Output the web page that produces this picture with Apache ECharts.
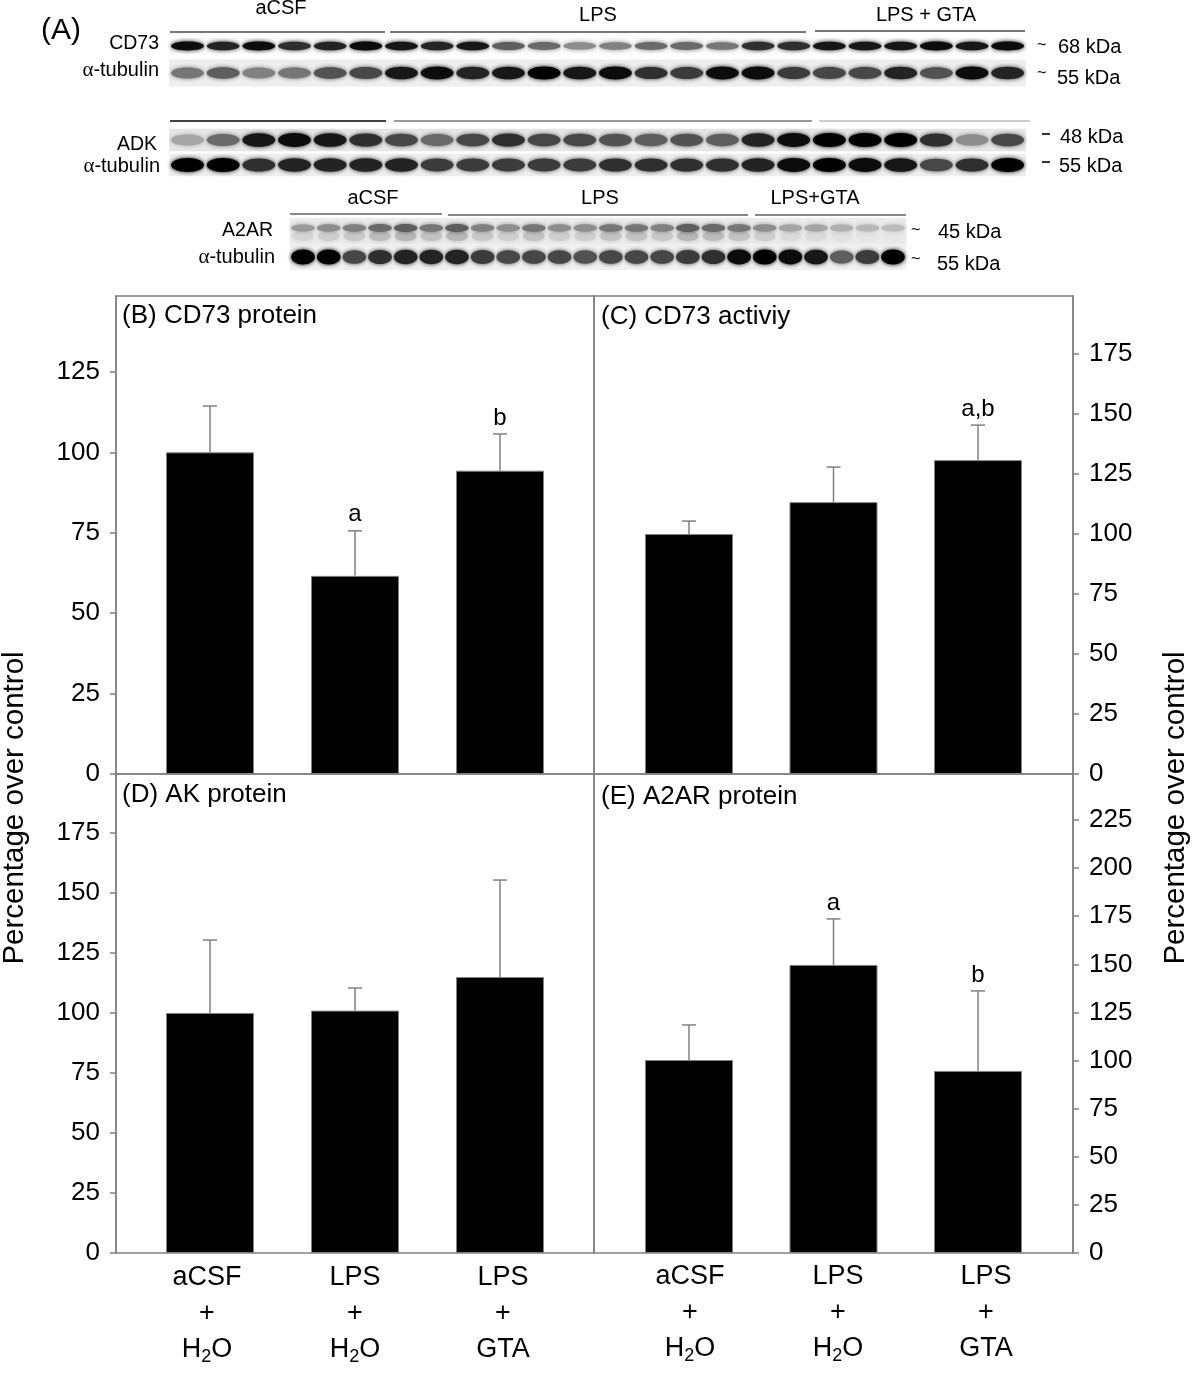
<!DOCTYPE html>
<html><head><meta charset="utf-8">
<style>html,body{margin:0;padding:0;background:#fff}#c{width:1200px;height:1373px}</style>
<script src="https://cdn.jsdelivr.net/npm/echarts@6/dist/echarts.min.js"></script>
</head><body><div id="c"></div>
<script>
// ---------- chart data ----------
const categories = ['aCSF + H2O', 'LPS + H2O', 'LPS + GTA'];
const xLabelsLower = ['aCSF\n+\nH{sub|2}O', 'LPS\n+\nH{sub|2}O', 'LPS\n+\nGTA'];

const cd73Protein = [100, 61.6, 94.3];
const cd73ProteinTop = [114.4, 75.6, 105.7];
const cd73ProteinMarks = ['', 'a', 'b'];
const cd73ProteinTicks = [0, 25, 50, 75, 100, 125];

const cd73Activity = [100, 113.3, 130.8];
const cd73ActivityTop = [105.4, 127.9, 145.4];
const cd73ActivityMarks = ['', '', 'a,b'];
const cd73ActivityTicks = [0, 25, 50, 75, 100, 125, 150, 175];

const akProtein = [100, 101, 115];
const akProteinTop = [130.4, 110.4, 155.4];
const akProteinMarks = ['', '', ''];
const akProteinTicks = [0, 25, 50, 75, 100, 125, 150, 175];

const a2arProtein = [100.3, 149.7, 94.6];
const a2arProteinTop = [118.5, 173.6, 136.2];
const a2arProteinMarks = ['', 'a', 'b'];
const a2arProteinTicks = [0, 25, 50, 75, 100, 125, 150, 175, 200, 225];

// blot band darkness per lane
const blotCd73 = [.95,.85,.95,.8,.85,.95, .9,.85,.9,.6,.55,.4,.45,.55,.55,.5,.8,.8, .9,.9,.9,.95,.9,.95];
const blotTub1 = [.5,.6,.45,.5,.65,.7, .9,.95,.85,.9,1,.9,.95,.8,.75,.95,.95,.75, .7,.7,.85,.65,.95,.85];
const blotAdk  = [.3,.55,.9,.95,.9,.8, .7,.55,.7,.8,.7,.7,.65,.6,.65,.6,.85,.95, 1,1,1,.8,.4,.7];
const blotTub2 = [1,1,.8,.85,.85,.85, .85,.75,.75,.75,.75,.75,.8,.8,.8,.8,.85,.95, 1,.95,.9,.7,.8,1];
const blotA2ar = [.35,.4,.45,.55,.6,.5, .6,.45,.4,.5,.4,.4,.5,.5,.45,.6,.55,.5, .4,.3,.3,.25,.22,.2];
const blotTub3 = [1,1,.7,.8,.85,.85, .85,.75,.7,.7,.7,.65,.7,.7,.7,.75,.8,.95, 1,.95,.9,.6,.75,1];
const laneNames = blotCd73.map((_, i) => 'L' + (i + 1));

// ---------- styles / layout ----------
const FONT = '"Liberation Sans", Arial, sans-serif';
const GRAY = '#808080';
const grid = [], xAxis = [], yAxis = [], series = [];

function addFrame(left, top, width, height) {
  const i = grid.length;
  grid.push({show: true, left, top, width, height, borderColor: GRAY, borderWidth: 1.5, backgroundColor: 'transparent'});
  xAxis.push({gridIndex: i, type: 'category', data: categories, show: false});
  yAxis.push({gridIndex: i, type: 'value', show: false});
}

function addPanel(p) {
  const i = grid.length;
  grid.push({left: p.left, top: p.top, width: p.width, height: p.height});
  xAxis.push({gridIndex: i, type: 'category', data: categories, axisLine: {show: false}, axisTick: {show: false}, axisLabel: {show: false}});
  yAxis.push({
    gridIndex: i, type: 'value', min: 0, max: p.max, interval: 25,
    position: p.side, offset: p.offset, splitLine: {show: false},
    axisLine: {show: true, onZero: false, lineStyle: {color: GRAY, width: 1.5}},
    axisTick: {show: true, length: 6, lineStyle: {color: GRAY, width: 1.5}, customValues: p.ticks},
    axisLabel: {show: true, fontFamily: FONT, fontSize: 26, color: '#000', margin: 16, customValues: p.ticks}
  });
  series.push({
    type: 'bar', xAxisIndex: i, yAxisIndex: i, data: p.values, barWidth: 88, silent: true,
    itemStyle: {color: '#000', borderColor: GRAY, borderWidth: 1}
  });
  series.push({
    type: 'custom', xAxisIndex: i, yAxisIndex: i, silent: true, z: 5,
    data: p.values.map((v, k) => [k, v, p.tops[k], p.marks[k]]),
    encode: {x: 0, y: [1, 2]},
    renderItem(params, api) {
      const x = api.value(0);
      const a = api.coord([x, api.value(1)]);
      const b = api.coord([x, api.value(2)]);
      const mark = p.marks[params.dataIndex];
      const lineStyle = {stroke: GRAY, lineWidth: 1.5};
      const children = [
        {type: 'line', shape: {x1: a[0], y1: a[1], x2: b[0], y2: b[1]}, style: lineStyle},
        {type: 'line', shape: {x1: b[0] - 7, y1: b[1], x2: b[0] + 7, y2: b[1]}, style: lineStyle}
      ];
      if (mark) children.push({type: 'text', style: {
        x: b[0], y: b[1] - 16, text: mark, fill: '#000',
        font: '24px ' + FONT, align: 'center', verticalAlign: 'middle'}});
      return {type: 'group', children};
    }
  });
}

function addLabels(left, top, width, bottomGap) {
  const i = grid.length;
  grid.push({left, top, width, height: 1});
  xAxis.push({
    gridIndex: i, type: 'category', data: xLabelsLower, position: 'bottom',
    axisLine: {show: false}, axisTick: {show: false},
    axisLabel: {interval: 0, margin: bottomGap, fontFamily: FONT, fontSize: 27, color: '#000', lineHeight: 36, align: 'center', verticalAlign: 'top',
      rich: {sub: {fontFamily: FONT, fontSize: 18, color: '#000', lineHeight: 36, padding: [14, 0, 0, 0]}}}
  });
  yAxis.push({gridIndex: i, type: 'value', show: false});
}

function addBlot(left, top, width, height, rows) {
  const i = grid.length;
  grid.push({left, top, width, height});
  xAxis.push({gridIndex: i, type: 'category', data: laneNames, show: false});
  yAxis.push({gridIndex: i, type: 'category', data: rows.map((_, k) => 'r' + k), inverse: true, show: false});
  rows.forEach((row, r) => {
    series.push({
      type: 'custom', xAxisIndex: i, yAxisIndex: i, silent: true,
      data: row.vals.map((v, k) => [k, r, v]),
      encode: {x: 0, y: 1},
      renderItem(params, api) {
        const c = api.coord([api.value(0), api.value(1)]);
        const s = api.size([1, 1]);
        const d = api.value(2);
        const g = Math.round(235 * (1 - d));
        const col = `rgb(${g},${g},${g})`;
        const kids = [{type: 'rect', shape: {x: c[0] - s[0] / 2 - 0.5, y: c[1] - s[1] * row.bg, width: s[0] + 1, height: s[1] * row.bg * 2},
            style: {fill: row.bgFill}}];
        if (row.dbl) {
          const l = Math.round(255 - d * 120);
          kids.push({type: 'ellipse', shape: {cx: c[0], cy: c[1] + 5, rx: s[0] * 0.42, ry: 5},
            style: {fill: `rgb(${l},${l},${l})`, shadowBlur: 4, shadowColor: `rgb(${l},${l},${l})`}});
        }
        kids.push({type: 'ellipse', shape: {cx: c[0], cy: c[1] + (row.dy || 0), rx: s[0] * 0.46, ry: row.ry * (0.7 + 0.3 * d)},
          style: {fill: col, shadowBlur: 4, shadowColor: col}});
        return {type: 'group', children: kids};
      }
    });
  });
}

// frames
addFrame(116, 296, 478, 478);
addFrame(594, 296, 479, 478);
addFrame(116, 774, 478, 479);
addFrame(594, 774, 479, 479);

// panels
addPanel({left: 137.5, top: 296, width: 435, height: 478, max: 148.6, side: 'left', offset: 21.5, ticks: cd73ProteinTicks, values: cd73Protein, tops: cd73ProteinTop, marks: cd73ProteinMarks});
addPanel({left: 616.75, top: 296, width: 433.5, height: 478, max: 199.2, side: 'right', offset: 22.75, ticks: cd73ActivityTicks, values: cd73Activity, tops: cd73ActivityTop, marks: cd73ActivityMarks});
addPanel({left: 137.5, top: 774, width: 435, height: 479, max: 199.6, side: 'left', offset: 21.5, ticks: akProteinTicks, values: akProtein, tops: akProteinTop, marks: akProteinMarks});
addPanel({left: 616.75, top: 774, width: 433.5, height: 479, max: 248.9, side: 'right', offset: 22.75, ticks: a2arProteinTicks, values: a2arProtein, tops: a2arProteinTop, marks: a2arProteinMarks});

// category labels under lower panels
addLabels(133, 1253, 444, 6);
addLabels(616, 1252, 444, 6);

// blots
addBlot(169.67, 32.5, 855.8, 54, [
  {vals: blotCd73, ry: 4.5, bg: 0.3, bgFill: '#fbfbfb'},
  {vals: blotTub1, ry: 6.5, bg: 0.5, bgFill: '#eeeeee'}
]);
addBlot(169.67, 127.5, 855.8, 50, [
  {vals: blotAdk, ry: 7, bg: 0.45, bgFill: '#e6e6e6'},
  {vals: blotTub2, ry: 7, bg: 0.45, bgFill: '#eeeeee'}
]);
addBlot(290.2, 218, 615.6, 52, [
  {vals: blotA2ar, ry: 4.5, bg: 0.5, bgFill: '#ebebeb', dbl: true, dy: -3},
  {vals: blotTub3, ry: 7.5, bg: 0.5, bgFill: '#f0f0f0'}
]);

// ---------- text and rules ----------
function txt(x, y, text, size, align, extra) {
  return Object.assign({type: 'text', x, y, silent: true, style: {text, fill: '#000', font: size + 'px ' + FONT, align: align || 'left', verticalAlign: 'middle'}}, extra || {});
}
function rule(x1, x2, y, color, w) {
  return {type: 'line', silent: true, shape: {x1, y1: y, x2, y2: y}, style: {stroke: color, lineWidth: w || 2}};
}
const alpha = {serif: {fontFamily: '"Liberation Serif", serif', fontSize: 21, fill: '#000'}};
function tub(x, y) {
  return {type: 'text', x, y, silent: true, style: {text: '{serif|α}-tubulin', rich: alpha, fill: '#000', font: '20px ' + FONT, align: 'right', verticalAlign: 'middle'}};
}
const graphicItems = [
  txt(41, 31, '(A)', 30),
  txt(159, 44, 'CD73', 19.5, 'right'), tub(159, 70),
  txt(157, 145, 'ADK', 19.5, 'right'), tub(160, 166),
  txt(273, 231, 'A2AR', 19.5, 'right'), tub(275, 257),

  txt(281, 8, 'aCSF', 20, 'center'), txt(598, 15, 'LPS', 20, 'center'), txt(926, 15, 'LPS + GTA', 20, 'center'),
  txt(373, 198, 'aCSF', 20, 'center'), txt(600, 198, 'LPS', 20, 'center'), txt(815, 198, 'LPS+GTA', 20, 'center'),

  rule(170, 385, 32, '#777'), rule(390, 806, 32, '#777'), rule(815, 1025, 31, '#777'),
  rule(170, 386, 121, '#444'), rule(394, 812, 121, '#999'), rule(819, 1030, 121, '#ccc'),
  rule(290, 442, 214, '#888'), rule(448, 748, 215, '#888'), rule(755, 906, 215, '#888'),

  txt(1058, 47, '68 kDa', 20), txt(1057, 78, '55 kDa', 20),
  txt(1060, 137, '48 kDa', 20), txt(1059, 166, '55 kDa', 20),
  txt(938, 232, '45 kDa', 20), txt(937, 264, '55 kDa', 20),
  txt(1037, 46, '~', 16), txt(1037, 74, '~', 16),
  rule(1042, 1050, 134, '#333'), rule(1042, 1050, 162, '#333'),
  txt(911, 231, '~', 16), txt(911, 260, '~', 16),

  txt(122, 316, '(B) CD73 protein', 26), txt(601, 317, '(C) CD73 activiy', 26),
  txt(122, 795, '(D) AK protein', 26), txt(601, 797, '(E) A2AR protein', 26),

  txt(15, 808, 'Percentage over control', 29.5, 'center', {rotation: Math.PI / 2}),
  txt(1176, 808, 'Percentage over control', 29.5, 'center', {rotation: Math.PI / 2})
];

const chart = echarts.init(document.getElementById('c'), null, {renderer: 'canvas'});
chart.setOption({
  animation: false, backgroundColor: '#fff', textStyle: {fontFamily: FONT},
  grid, xAxis, yAxis, series, graphic: {elements: graphicItems}
});
</script></body></html>
